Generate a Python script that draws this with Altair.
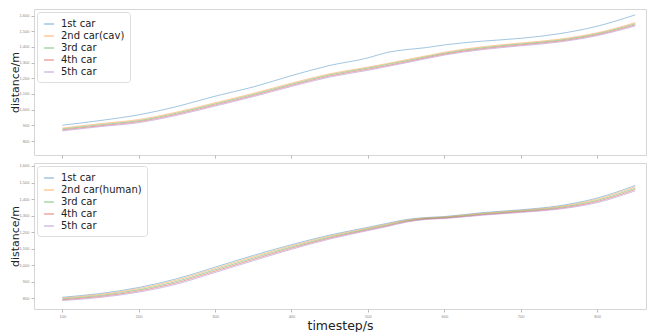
import altair as alt
import pandas as pd

timesteps = [100, 150, 200, 250, 300, 350, 400, 450, 500, 525, 550, 575, 600, 650, 700, 750, 800, 850]

# upper panel (cav)
top_car1 = [901, 931, 967, 1020, 1086, 1145, 1217, 1282, 1330, 1365, 1383, 1395, 1413, 1437, 1455, 1484, 1532, 1605]
top_car2 = [883, 911, 937, 985, 1044, 1104, 1169, 1229, 1271, 1294, 1318, 1342, 1366, 1401, 1425, 1449, 1490, 1555]
top_car3 = [877, 904, 930, 978, 1037, 1097, 1162, 1222, 1265, 1288, 1312, 1336, 1360, 1395, 1419, 1443, 1484, 1548]
top_car4 = [871, 898, 924, 971, 1030, 1090, 1155, 1215, 1258, 1281, 1305, 1330, 1354, 1389, 1413, 1437, 1478, 1541]
top_car5 = [865, 892, 917, 964, 1023, 1083, 1148, 1208, 1251, 1275, 1299, 1324, 1348, 1383, 1407, 1431, 1472, 1534]

# lower panel (human)
bot_car1 = [806, 829, 865, 918, 988, 1059, 1124, 1182, 1229, 1253, 1276, 1288, 1294, 1318, 1335, 1359, 1406, 1482]
bot_car2 = [801, 823, 858, 910, 980, 1051, 1117, 1176, 1224, 1248, 1272, 1285, 1291, 1314, 1331, 1354, 1399, 1474]
bot_car3 = [796, 817, 851, 902, 972, 1043, 1110, 1170, 1219, 1243, 1268, 1282, 1288, 1310, 1327, 1349, 1392, 1466]
bot_car4 = [791, 811, 844, 894, 964, 1035, 1103, 1164, 1214, 1238, 1264, 1279, 1285, 1306, 1323, 1344, 1385, 1458]
bot_car5 = [786, 805, 837, 886, 956, 1027, 1096, 1158, 1209, 1233, 1260, 1276, 1282, 1302, 1319, 1339, 1378, 1450]

top_labels = ["1st car", "2nd car(cav)", "3rd car", "4th car", "5th car"]
bot_labels = ["1st car", "2nd car(human)", "3rd car", "4th car", "5th car"]
y_ticks = [800, 900, 1000, 1100, 1200, 1300, 1400, 1500, 1600]
x_ticks = [100, 200, 300, 400, 500, 600, 700, 800]
colors = ["#1f77b4", "#ff7f0e", "#2ca02c", "#d62728", "#9467bd"]


def long_table(labels, series):
    rows = []
    for lab, vals in zip(labels, series):
        for t, v in zip(timesteps, vals):
            rows.append({"timestep": t, "distance": v, "car": lab})
    return pd.DataFrame(rows)


top_df = long_table(top_labels, [top_car1, top_car2, top_car3, top_car4, top_car5])
bot_df = long_table(bot_labels, [bot_car1, bot_car2, bot_car3, bot_car4, bot_car5])

W = 612
H = 146


def panel(df, labels, ydomain, show_x):
    xaxis = alt.Axis(
        values=x_ticks,
        labels=show_x,
        title="timestep/s" if show_x else None,
        titleFontSize=12.5,
        titleFont="DejaVu Sans",
        titleFontWeight="normal",
        titleColor="#222",
        titlePadding=1,
        grid=False,
        domain=False,
        tickSize=3,
        tickColor="#bbb",
        labelFontSize=4,
        labelColor="#888",
        labelPadding=2,
    )
    yaxis = alt.Axis(
        values=y_ticks,
        title="distance/m",
        titleFontSize=11,
        titleFont="DejaVu Sans",
        titleFontWeight="normal",
        titleColor="#222",
        titleX=-14,
        grid=False,
        domain=False,
        tickSize=3,
        tickColor="#bbb",
        labelFontSize=4,
        labelColor="#888",
        labelPadding=2,
    )
    return alt.Chart(df).mark_line(strokeWidth=1, opacity=0.42, interpolate="monotone").encode(
        x=alt.X("timestep:Q", scale=alt.Scale(domain=[63, 864], nice=False, zero=False), axis=xaxis),
        y=alt.Y("distance:Q", scale=alt.Scale(domain=ydomain, nice=False, zero=False), axis=yaxis),
        color=alt.Color(
            "car:N",
            sort=labels,
            scale=alt.Scale(domain=labels, range=colors),
            legend=alt.Legend(
                title=None,
                orient="top-left",
                offset=3,
                fillColor="white",
                strokeColor="#dddddd",
                cornerRadius=3,
                padding=5,
                labelFontSize=10,
                labelFont="DejaVu Sans",
                labelColor="#222",
                symbolType="M-0.8,0H0.8",
                symbolSize=150,
                symbolStrokeWidth=1.5,
                symbolOpacity=0.42,
                rowPadding=0,
                labelOffset=5,
            ),
        ),
    ).properties(width=W, height=H)


top = panel(top_df, top_labels, [711, 1642], False)
bot = panel(bot_df, bot_labels, [735, 1618], True)

chart = alt.vconcat(top, bot, spacing=3).resolve_scale(color="independent").properties(
    padding=0, background="white"
).configure_view(stroke="#d6d6d6", strokeWidth=1)

chart.save("out.html", embed_options={"renderer": "svg", "actions": False})
